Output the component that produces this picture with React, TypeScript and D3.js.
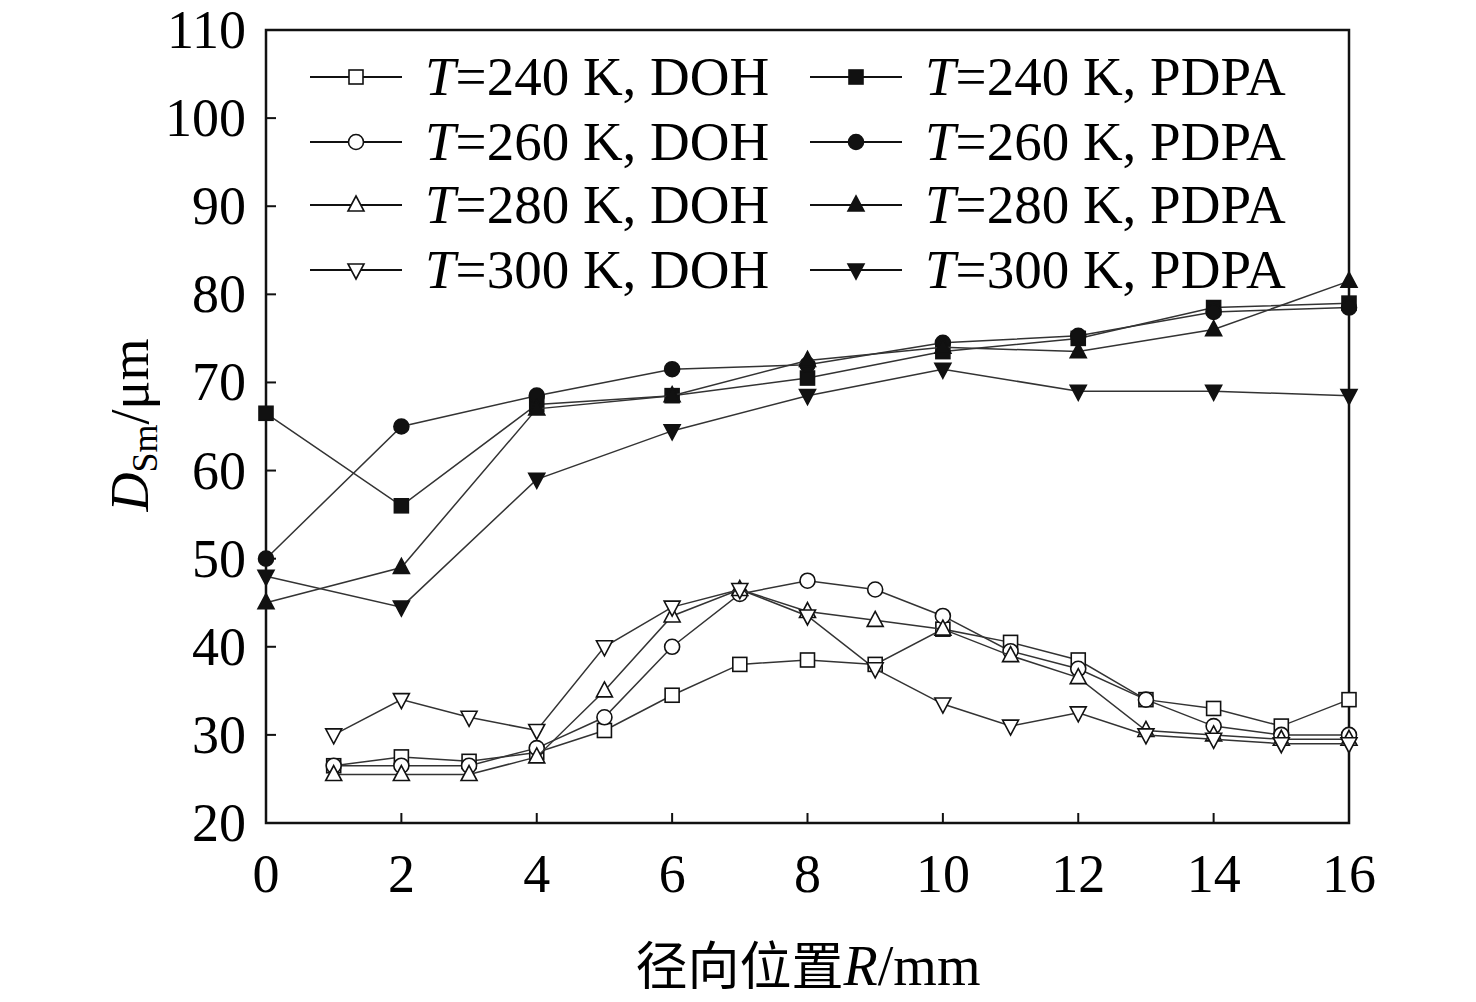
import React from "react";
import * as d3 from "d3";

const pdpaX = [0, 2, 4, 6, 8, 10, 12, 14, 16];
const pdpa240 = [66.5, 56, 67.5, 68.5, 70.5, 73.5, 75, 78.5, 79];
const pdpa260 = [50, 65, 68.5, 71.5, 72, 74.5, 75.3, 78, 78.5];
const pdpa280 = [45, 49, 67, 68.5, 72.5, 74, 73.5, 76, 81.5];
const pdpa300 = [48, 44.5, 59, 64.5, 68.5, 71.5, 69, 69, 68.5];
const dohX = [1, 2, 3, 4, 5, 6, 7, 8, 9, 10, 11, 12, 13, 14, 15, 16];
const doh240 = [26.5, 27.5, 27, 28, 30.5, 34.5, 38, 38.5, 38, 42, 40.5, 38.5, 34, 33, 31, 34];
const doh260 = [26.5, 26.5, 26.5, 28.5, 32, 40, 46, 47.5, 46.5, 43.5, 39.5, 37.5, 34, 31, 30, 30];
const doh280 = [25.5, 25.5, 25.5, 27.5, 35, 43.5, 46.5, 44, 43, 42, 39, 36.5, 30.5, 30, 29.5, 29.5];
const doh300 = [30, 34, 32, 30.5, 40, 44.5, 46.5, 43.5, 37.5, 33.5, 31, 32.5, 30, 29.5, 29, 29];
const xTicks = [0, 2, 4, 6, 8, 10, 12, 14, 16];
const yTicks = [20, 30, 40, 50, 60, 70, 80, 90, 100, 110];

type Shape = "square" | "circle" | "up" | "down";
const series = [
  { label: "240", kind: "DOH", x: dohX, y: doh240, shape: "square" as Shape, fill: false },
  { label: "260", kind: "DOH", x: dohX, y: doh260, shape: "circle" as Shape, fill: false },
  { label: "280", kind: "DOH", x: dohX, y: doh280, shape: "up" as Shape, fill: false },
  { label: "300", kind: "DOH", x: dohX, y: doh300, shape: "down" as Shape, fill: false },
  { label: "240", kind: "PDPA", x: pdpaX, y: pdpa240, shape: "square" as Shape, fill: true },
  { label: "260", kind: "PDPA", x: pdpaX, y: pdpa260, shape: "circle" as Shape, fill: true },
  { label: "280", kind: "PDPA", x: pdpaX, y: pdpa280, shape: "up" as Shape, fill: true },
  { label: "300", kind: "PDPA", x: pdpaX, y: pdpa300, shape: "down" as Shape, fill: true },
];

function Marker({ cx, cy, shape, fill }: { cx: number; cy: number; shape: Shape; fill: boolean }) {
  const p = { fill: fill ? "#111" : "#fff", stroke: "#111", strokeWidth: 1.6 };
  if (shape === "square") return <rect x={cx - 7} y={cy - 7} width={14} height={14} {...p} />;
  if (shape === "circle") return <circle cx={cx} cy={cy} r={7.5} {...p} />;
  if (shape === "up") return <path d={`M${cx},${cy - 9}L${cx + 8},${cy + 6}L${cx - 8},${cy + 6}Z`} {...p} />;
  return <path d={`M${cx},${cy + 9}L${cx + 8},${cy - 6}L${cx - 8},${cy - 6}Z`} {...p} />;
}

export default function App() {
  const L = 266, R = 1349, T = 30, B = 823;
  const x = d3.scaleLinear().domain([0, 16]).range([L, R]);
  const y = d3.scaleLinear().domain([20, 110]).range([B, T]);
  const line = d3.line<[number, number]>().x((d) => x(d[0])).y((d) => y(d[1]));
  const font = "'Liberation Serif', 'Times New Roman', serif";
  const legendRows = [77, 142, 205, 270];
  return (
    <svg width={1476} height={1002} style={{ position: "absolute", left: 0, top: 0, background: "#fff" }} fontFamily={font}>
      <rect x={L} y={T} width={R - L} height={B - T} fill="none" stroke="#111" strokeWidth={2.5} />
      {xTicks.map((t) => (
        <g key={"x" + t}>
          <line x1={x(t)} x2={x(t)} y1={B} y2={B - 10} stroke="#111" strokeWidth={2} />
          <text x={x(t)} y={892} textAnchor="middle" fontSize={54}>{t}</text>
        </g>
      ))}
      {yTicks.map((t) => (
        <g key={"y" + t}>
          <line x1={L} x2={L + 10} y1={y(t)} y2={y(t)} stroke="#111" strokeWidth={2} />
          <text x={246} y={y(t) + 18} textAnchor="end" fontSize={54}>{t}</text>
        </g>
      ))}
      {series.map((s, i) => {
        const pts: [number, number][] = s.x.map((v, j) => [v, s.y[j]]);
        return (
          <g key={i}>
            <path d={line(pts) || ""} fill="none" stroke="#333" strokeWidth={1.5} />
            {pts.map((p, j) => (
              <Marker key={j} cx={x(p[0])} cy={y(p[1])} shape={s.shape} fill={s.fill} />
            ))}
          </g>
        );
      })}
      {series.map((s, i) => {
        const col = s.kind === "DOH" ? 0 : 1;
        const x0 = col === 0 ? 310 : 810;
        const ly = legendRows[i % 4];
        return (
          <g key={"lg" + i}>
            <line x1={x0} x2={x0 + 92} y1={ly} y2={ly} stroke="#111" strokeWidth={1.8} />
            <Marker cx={x0 + 46} cy={ly} shape={s.shape} fill={s.fill} />
            <text x={x0 + 115} y={ly + 18} fontSize={55}>
              <tspan fontStyle="italic">T</tspan>={s.label} K, {s.kind}
            </text>
          </g>
        );
      })}
      <text transform="translate(148,425) rotate(-90)" textAnchor="middle" fontSize={54}>
        <tspan fontStyle="italic">D</tspan>
        <tspan fontSize={36} dy={9}>Sm</tspan>
        <tspan dy={-9}>/μm</tspan>
      </text>
      <text x={808} y={985} textAnchor="middle" fontSize={56}>
        <tspan fontFamily="'Noto Sans CJK SC', sans-serif" fontSize={52}>径向位置</tspan>
        <tspan fontStyle="italic">R</tspan>/mm
      </text>
    </svg>
  );
}
